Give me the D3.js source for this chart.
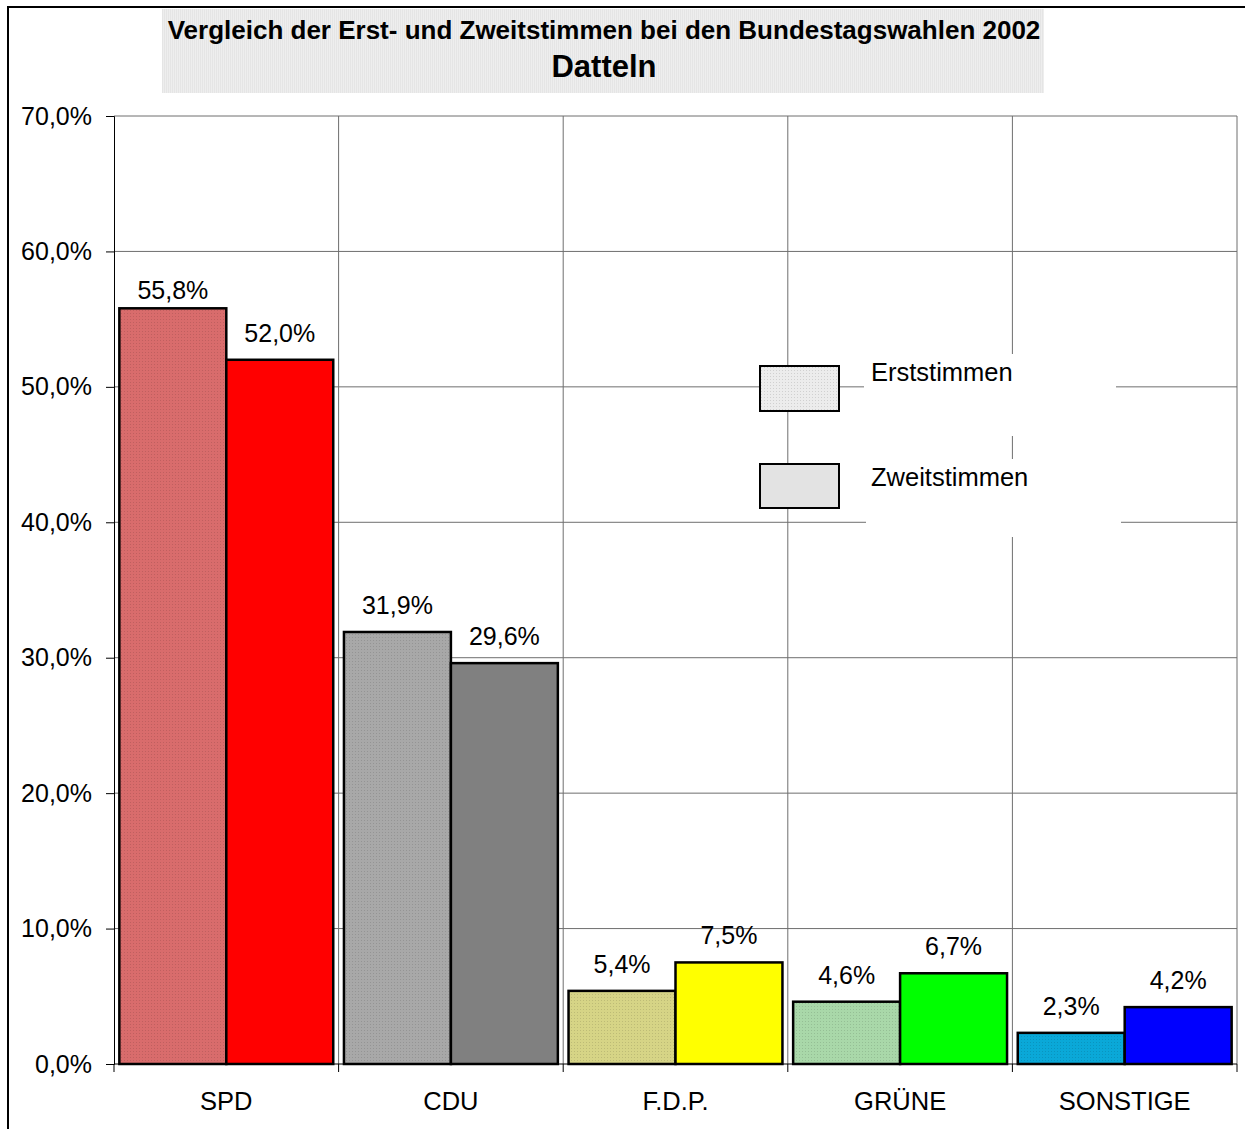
<!DOCTYPE html>
<html>
<head>
<meta charset="utf-8">
<script src="https://cdn.jsdelivr.net/npm/d3@7"></script>
<style>
body { margin: 0; background: #fff; }
text { font-family: Arial, "Liberation Sans", sans-serif; fill: #000; }
</style>
</head>
<body>
<div id="chart"></div>
<script>
// data
var categories = ["SPD", "CDU", "F.D.P.", "GRÜNE", "SONSTIGE"];
var erststimmen = [55.8, 31.9, 5.4, 4.6, 2.3];
var zweitstimmen = [52.0, 29.6, 7.5, 6.7, 4.2];
var erstColors = ["#d96c6c", "#a8a8a8", "#d6d486", "#a9d8a9", "#0aa8d8"];
var zweitColors = ["#ff0000", "#808080", "#ffff00", "#00ff00", "#0000ff"];
var yTicks = [0, 10, 20, 30, 40, 50, 60, 70];
var series = ["Erststimmen", "Zweitstimmen"];

var width = 1245, height = 1129;

var svg = d3.select("#chart").append("svg")
	.attr("width", width)
	.attr("height", height);

var defs = svg.append("defs");

// dotted fill for the Erststimmen bars
function dotPattern(id, color){
	var p = defs.append("pattern")
		.attr("id", id)
		.attr("width", 3)
		.attr("height", 3)
		.attr("patternUnits", "userSpaceOnUse");
	p.append("rect").attr("width", 3).attr("height", 3).attr("fill", color);
	p.append("rect").attr("x", 1).attr("y", 1).attr("width", 1).attr("height", 1)
		.attr("fill", d3.color(color).darker(0.35));
}
erstColors.forEach(function(c, i){ dotPattern("dots" + i, c); });
dotPattern("dotsLegend", "#ececec");

var stripes = defs.append("pattern")
	.attr("id", "stripes")
	.attr("width", 2)
	.attr("height", 2)
	.attr("patternUnits", "userSpaceOnUse");
stripes.append("rect").attr("width", 2).attr("height", 2).attr("fill", "#eeeeee");
stripes.append("rect").attr("width", 1).attr("height", 2).attr("fill", "#e5e5e5");

// outer frame (left and top)
svg.append("path")
	.attr("d", "M8," + height + "V7H" + width)
	.attr("fill", "none")
	.attr("stroke", "#000")
	.attr("stroke-width", 2);

// title box
svg.append("rect")
	.attr("x", 162).attr("y", 9)
	.attr("width", 882).attr("height", 84)
	.attr("fill", "url(#stripes)");

svg.append("text")
	.attr("x", 604).attr("y", 39)
	.attr("text-anchor", "middle")
	.style("font-size", "26px")
	.style("font-weight", "bold")
	.text("Vergleich der Erst- und Zweitstimmen bei den Bundestagswahlen 2002");

svg.append("text")
	.attr("x", 604).attr("y", 77)
	.attr("text-anchor", "middle")
	.style("font-size", "31px")
	.style("font-weight", "bold")
	.text("Datteln");

// scales
var x = d3.scaleBand()
	.domain(categories)
	.range([114, 1237]);

var xs = d3.scaleBand()
	.domain(series)
	.range([0, x.bandwidth()])
	.paddingOuter(0.05);

var y = d3.scaleLinear()
	.domain([0, 70])
	.range([1064, 116]);

// grid
var grid = svg.append("g");
grid.selectAll("line.h")
	.data(yTicks.slice(1))
	.enter().append("line")
	.attr("x1", 114).attr("x2", 1237)
	.attr("y1", function(d){ return y(d); })
	.attr("y2", function(d){ return y(d); })
	.attr("stroke", "#6e6e6e")
	.attr("stroke-width", 1);

grid.selectAll("line.v")
	.data(categories.slice(1).concat(["end"]))
	.enter().append("line")
	.attr("x1", function(d){ return d == "end" ? 1237 : x(d); })
	.attr("x2", function(d){ return d == "end" ? 1237 : x(d); })
	.attr("y1", 116).attr("y2", 1064)
	.attr("stroke", "#6e6e6e")
	.attr("stroke-width", 1);

// legend text backgrounds hide the grid
svg.append("rect").attr("x", 864).attr("y", 354).attr("width", 252).attr("height", 82).attr("fill", "#fff");
svg.append("rect").attr("x", 866).attr("y", 459).attr("width", 255).attr("height", 78).attr("fill", "#fff");

// axes
var yAxis = d3.axisLeft(y)
	.tickValues(yTicks)
	.tickSize(8)
	.tickPadding(14)
	.tickFormat(function(d){ return d3.format(".1f")(d).replace(".", ",") + "%"; });

var gy = svg.append("g")
	.attr("transform", "translate(114,0)")
	.call(yAxis);
gy.select(".domain").attr("stroke", "#000");
gy.selectAll(".tick line").attr("stroke", "#000");
gy.selectAll(".tick text")
	.style("font-size", "25px")
	.style("font-family", "Arial, 'Liberation Sans', sans-serif");

var xTickPos = categories.map(function(d){ return x(d); }).concat([1237]);
svg.append("line")
	.attr("x1", 114).attr("x2", 1237)
	.attr("y1", 1064).attr("y2", 1064)
	.attr("stroke", "#000");
svg.selectAll("line.xt")
	.data(xTickPos)
	.enter().append("line")
	.attr("x1", function(d){ return d; })
	.attr("x2", function(d){ return d; })
	.attr("y1", 1064).attr("y2", 1072)
	.attr("stroke", "#000");

svg.selectAll("text.cat")
	.data(categories)
	.enter().append("text")
	.attr("x", function(d){ return x(d) + x.bandwidth() / 2; })
	.attr("y", 1110)
	.attr("text-anchor", "middle")
	.style("font-size", "25.5px")
	.text(function(d){ return d; });

// bars
var rows = [];
categories.forEach(function(c, i){
	rows.push({cat: c, s: "Erststimmen", v: erststimmen[i], fill: "url(#dots" + i + ")"});
	rows.push({cat: c, s: "Zweitstimmen", v: zweitstimmen[i], fill: zweitColors[i]});
});

svg.selectAll("rect.bar")
	.data(rows)
	.enter().append("rect")
	.attr("x", function(d){ return x(d.cat) + xs(d.s); })
	.attr("y", function(d){ return y(d.v); })
	.attr("width", xs.bandwidth())
	.attr("height", function(d){ return y(0) - y(d.v); })
	.attr("fill", function(d){ return d.fill; })
	.attr("stroke", "#000")
	.attr("stroke-width", 2.5);

svg.selectAll("text.val")
	.data(rows)
	.enter().append("text")
	.attr("x", function(d){ return x(d.cat) + xs(d.s) + xs.bandwidth() / 2; })
	.attr("y", function(d){ return y(d.v) - (d.v > 55 ? 9 : 18); })
	.attr("text-anchor", "middle")
	.style("font-size", "25px")
	.text(function(d){ return d3.format(".1f")(d.v).replace(".", ",") + "%"; });

// legend
var legendY = [366, 464];
var legend = svg.selectAll("g.leg")
	.data(series)
	.enter().append("g")
	.attr("transform", function(d, i){ return "translate(760," + legendY[i] + ")"; });

legend.append("rect")
	.attr("width", 79)
	.attr("height", function(d, i){ return i == 0 ? 45 : 44; })
	.attr("fill", function(d, i){ return i == 0 ? "url(#dotsLegend)" : "#e3e3e3"; })
	.attr("stroke", "#000")
	.attr("stroke-width", 2);

legend.append("text")
	.attr("x", 111)
	.attr("y", function(d, i){ return i == 0 ? 15 : 22; })
	.style("font-size", "25.5px")
	.text(function(d){ return d; });
</script>
</body>
</html>
